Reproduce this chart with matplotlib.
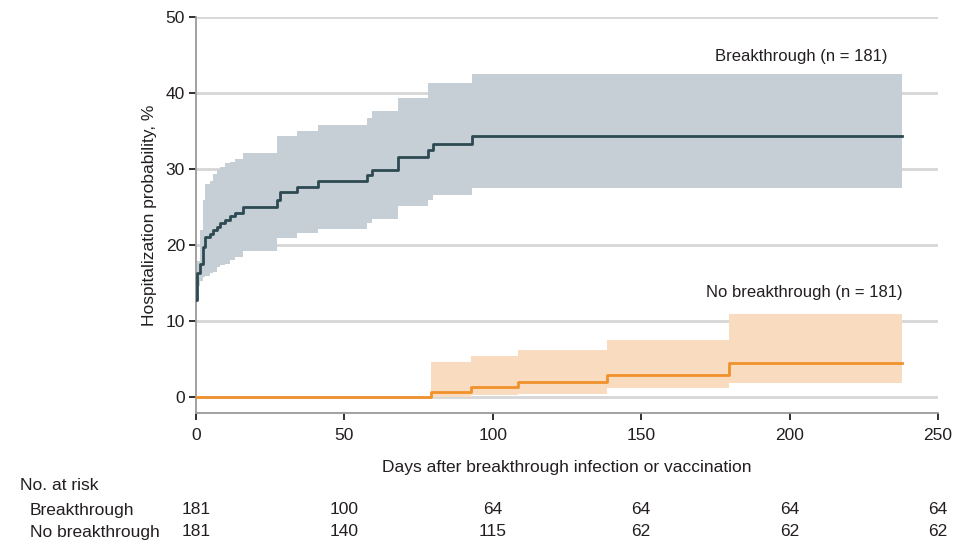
import matplotlib
matplotlib.use("Agg")
import matplotlib.pyplot as plt
from matplotlib.transforms import blended_transform_factory

plt.rcParams['font.family'] = ['Liberation Sans Narrow', 'Liberation Sans', 'DejaVu Sans']

# Kaplan-Meier style cumulative hospitalization (%), step changes at event days
bt_days  = [0, 0.45, 1.35, 2.2, 3.0, 4.7, 5.8, 7.0, 8.1, 9.8, 11.5, 13.1, 15.9,
            27.2, 28.3, 33.9, 41.2, 57.5, 59.2, 68.2, 78.3, 80.0, 93.0, 238.0]
bt_est   = [12.8, 16.3, 17.6, 19.8, 21.1, 21.5, 22.0, 22.4, 22.9, 23.3, 23.8, 24.2, 25.0,
            26.0, 27.0, 27.7, 28.4, 29.2, 29.9, 31.6, 32.5, 33.3, 34.4, 34.4]
bt_lower = [12.8, 14.6, 15.3, 15.8, 16.0, 16.3, 16.5, 17.2, 17.4, 17.6, 18.1, 18.5, 19.2,
            20.9, 20.9, 21.6, 22.2, 22.9, 23.5, 25.1, 26.0, 26.6, 27.5, 27.5]
bt_upper = [12.8, 18.0, 22.0, 26.0, 28.1, 28.5, 29.4, 29.9, 30.3, 30.8, 31.0, 31.4, 32.1,
            34.3, 34.3, 35.0, 35.8, 36.7, 37.6, 39.3, 41.3, 41.3, 42.5, 42.5]

nb_days  = [0, 79.3, 92.8, 108.5, 138.5, 179.6, 238.0]
nb_est   = [0, 0.7, 1.4, 2.1, 3.0, 4.5, 4.5]
nb_lower = [0, 0.1, 0.3, 0.5, 1.2, 1.9, 1.9]
nb_upper = [0, 4.7, 5.4, 6.3, 7.6, 11.0, 11.0]

risk_days = [0, 50, 100, 150, 200, 250]
risk_bt = [181, 100, 64, 64, 64, 64]
risk_nb = [181, 140, 115, 62, 62, 62]

x_ticks = [0, 50, 100, 150, 200, 250]
y_ticks = [0, 10, 20, 30, 40, 50]

dark = '#2d4a52'
dark_band = '#c6cfd5'
orange = '#f0912b'
orange_band = '#f9dcc0'
grid_c = '#d6d6d6'
spine_c = '#9a9a9a'
text_c = '#231f20'

fig = plt.figure(figsize=(9.68, 5.44), dpi=100)
ax = fig.add_axes([196 / 968, 1 - 412.7 / 544, (938 - 196) / 968, (412.7 - 17) / 544])

ax.set_xlim(0, 250)
ax.set_ylim(-2, 50)

for yv in y_ticks:
    ax.axhline(yv, color=grid_c, lw=2.0, zorder=0.5)

ax.fill_between(bt_days, bt_lower, bt_upper, step='post', color=dark_band, lw=0, zorder=1)
ax.fill_between(nb_days, nb_lower, nb_upper, step='post', color=orange_band, lw=0, zorder=1)
ax.step(bt_days, bt_est, where='post', color=dark, lw=2.0, zorder=3)
ax.step(nb_days, nb_est, where='post', color=orange, lw=2.0, zorder=3)

for s in ['top', 'right']:
    ax.spines[s].set_visible(False)
ax.spines['left'].set_color(spine_c)
ax.spines['bottom'].set_color(spine_c)
ax.spines['left'].set_linewidth(1.3)
ax.spines['bottom'].set_linewidth(1.3)
ax.spines['left'].set_bounds(-2, 50)

ax.set_xticks(x_ticks)
ax.set_yticks(y_ticks)
ax.tick_params(axis='both', direction='out', length=5, width=1.3, color=text_c,
               labelsize=12.5, labelcolor=text_c)
ax.tick_params(axis='x', pad=6)
ax.tick_params(axis='y', pad=3)

ax.set_ylabel('Hospitalization probability, %', fontsize=12.5, color=text_c, labelpad=6)
ax.set_xlabel('Days after breakthrough infection or vaccination', fontsize=12.5,
              color=text_c, labelpad=12)

ax.text(233, 44.8, 'Breakthrough (n = 181)', ha='right', va='center', fontsize=12, color=text_c)
ax.text(238, 13.8, 'No breakthrough (n = 181)', ha='right', va='center', fontsize=12, color=text_c)

# Number-at-risk table beneath the x axis
tr = blended_transform_factory(ax.transData, fig.transFigure)
fig.text(20 / 968, 1 - 486 / 544, 'No. at risk', fontsize=12.5, color=text_c, va='center')
fig.text(30 / 968, 1 - 510 / 544, 'Breakthrough', fontsize=12.5, color=text_c, va='center')
fig.text(30 / 968, 1 - 532 / 544, 'No breakthrough', fontsize=12.5, color=text_c, va='center')
for d, a, b in zip(risk_days, risk_bt, risk_nb):
    ax.text(d, 1 - 510 / 544, str(a), transform=tr, ha='center', va='center',
            fontsize=12.5, color=text_c, clip_on=False)
    ax.text(d, 1 - 532 / 544, str(b), transform=tr, ha='center', va='center',
            fontsize=12.5, color=text_c, clip_on=False)

fig.savefig('out.png', dpi=100)
